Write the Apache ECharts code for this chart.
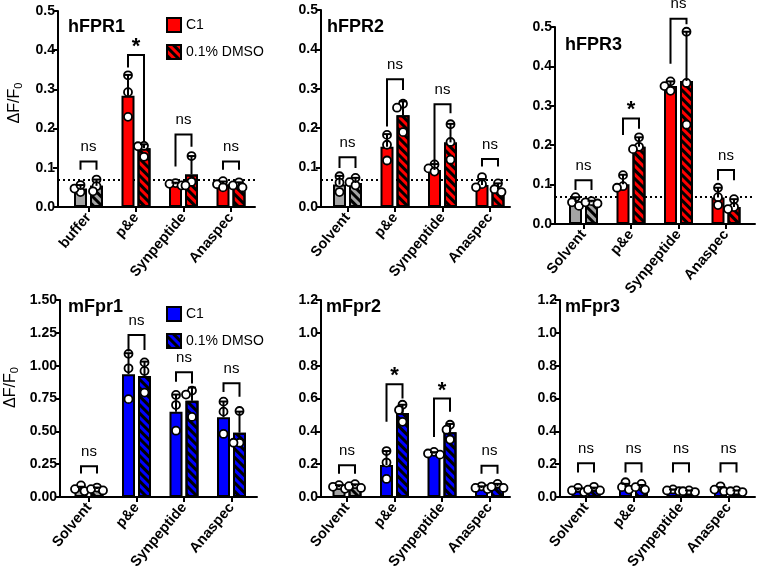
<!DOCTYPE html>
<html><head><meta charset="utf-8">
<script src="https://cdn.jsdelivr.net/npm/echarts@6/dist/echarts.min.js"></script>
<style>html,body{margin:0;padding:0;background:#fff}#c{width:757px;height:573px}</style>
</head><body><div id="c"></div><script>
const FONT = '"Liberation Sans", Arial, Helvetica, sans-serif';

// ---------------- data ----------------
const panelTitles = ['hFPR1', 'hFPR2', 'hFPR3', 'mFpr1', 'mFpr2', 'mFpr3'];
const catsHFPR1 = ['buffer', 'p&e', 'Synpeptide', 'Anaspec'];
const catsOther = ['Solvent', 'p&e', 'Synpeptide', 'Anaspec'];
const seriesNames = ['C1', '0.1% DMSO'];
const yMax = [0.5, 0.5, 0.5, 1.5, 1.2, 1.2];
const yStep = [0.1, 0.1, 0.1, 0.25, 0.2, 0.2];
const yDecimals = [1, 1, 1, 2, 1, 1];
const baselineLevel = 0.072;   // dotted reference line (hFPR panels)

const c1Mean = [
  [0.047, 0.284, 0.058, 0.058],
  [0.057, 0.153, 0.094, 0.056],
  [0.056, 0.101, 0.350, 0.067],
  [0.058, 0.935, 0.650, 0.607],
  [0.060, 0.195, 0.265, 0.055],
  [0.040, 0.060, 0.040, 0.045]
];
const c1Sd = [
  [0.009, 0.053, 0.004, 0.007],
  [0.022, 0.032, 0.015, 0.015],
  [0.012, 0.024, 0.012, 0.025],
  [0.020, 0.160, 0.130, 0.120],
  [0.012, 0.085, 0.008, 0.010],
  [0.012, 0.020, 0.006, 0.015]
];
const dmsoMean = [
  [0.054, 0.150, 0.083, 0.055],
  [0.061, 0.233, 0.164, 0.045],
  [0.055, 0.196, 0.363, 0.043],
  [0.060, 0.921, 0.733, 0.490],
  [0.065, 0.512, 0.395, 0.065],
  [0.045, 0.055, 0.035, 0.035]
];
const dmsoSd = [
  [0.016, 0.010, 0.047, 0.008],
  [0.013, 0.035, 0.047, 0.015],
  [0.004, 0.024, 0.125, 0.020],
  [0.012, 0.110, 0.100, 0.160],
  [0.012, 0.050, 0.050, 0.015],
  [0.012, 0.018, 0.005, 0.005]
];
const c1Dots = [
  [[0.038, 0.047, 0.056], [0.336, 0.293, 0.230], [0.061, 0.059, 0.055], [0.066, 0.058, 0.050]],
  [[0.078, 0.062, 0.038], [0.183, 0.158, 0.118], [0.108, 0.098, 0.090], [0.076, 0.058, 0.050]],
  [[0.068, 0.055, 0.046], [0.124, 0.096, 0.092], [0.362, 0.350, 0.338], [0.092, 0.068, 0.048]],
  [[0.088, 0.060, 0.045], [1.090, 0.980, 0.745], [0.777, 0.700, 0.505], [0.726, 0.650, 0.480]],
  [[0.072, 0.062, 0.050], [0.280, 0.210, 0.110], [0.275, 0.265, 0.258], [0.065, 0.055, 0.048]],
  [[0.055, 0.040, 0.030], [0.090, 0.060, 0.045], [0.046, 0.040, 0.035], [0.065, 0.045, 0.035]]
];
const dmsoDots = [
  [[0.070, 0.053, 0.040], [0.156, 0.155, 0.128], [0.130, 0.064, 0.055], [0.063, 0.055, 0.050]],
  [[0.074, 0.063, 0.055], [0.262, 0.252, 0.190], [0.210, 0.165, 0.120], [0.060, 0.045, 0.038]],
  [[0.058, 0.055, 0.052], [0.220, 0.196, 0.190], [0.488, 0.358, 0.252], [0.063, 0.043, 0.038]],
  [[0.072, 0.060, 0.050], [1.025, 0.960, 0.795], [0.810, 0.780, 0.610], [0.655, 0.413, 0.413]],
  [[0.078, 0.066, 0.055], [0.562, 0.530, 0.458], [0.440, 0.410, 0.350], [0.080, 0.062, 0.055]],
  [[0.062, 0.045, 0.040], [0.080, 0.060, 0.045], [0.040, 0.035, 0.030], [0.040, 0.035, 0.030]]
];
// significance brackets: top level, left-leg bottom, right-leg bottom
const bracketTop = [
  [0.116, 0.388, 0.185, 0.116],
  [0.126, 0.324, 0.261, 0.122],
  [0.111, 0.268, 0.521, 0.137],
  [0.234, 1.234, 0.949, 0.866],
  [0.193, 0.687, 0.600, 0.191],
  [0.205, 0.205, 0.205, 0.205]
];
const bracketLeft = [
  [0.095, 0.356, 0.103, 0.095],
  [0.099, 0.204, 0.111, 0.103],
  [0.086, 0.226, 0.407, 0.111],
  [0.178, 1.107, 0.878, 0.800],
  [0.142, 0.458, 0.366, 0.142],
  [0.150, 0.150, 0.150, 0.150]
];
const bracketRight = [
  [0.095, 0.166, 0.154, 0.095],
  [0.099, 0.297, 0.238, 0.103],
  [0.086, 0.242, 0.507, 0.111],
  [0.178, 1.120, 0.865, 0.764],
  [0.142, 0.600, 0.519, 0.142],
  [0.150, 0.150, 0.150, 0.150]
];
const sigLabels = [
  ['ns', '*', 'ns', 'ns'],
  ['ns', 'ns', 'ns', 'ns'],
  ['ns', '*', 'ns', 'ns'],
  ['ns', 'ns', 'ns', 'ns'],
  ['ns', '*', '*', 'ns'],
  ['ns', 'ns', 'ns', 'ns']
];

// ---------------- layout / style ----------------
const layout = [
  {left: 58,  x0: 88.5,  end: 255, top: 11,  bottom: 207},
  {left: 321, x0: 347.5, end: 510, top: 10,  bottom: 207},
  {left: 555, x0: 583.5, end: 755, top: 27,  bottom: 224},
  {left: 60,  x0: 89,    end: 257, top: 300, bottom: 497},
  {left: 321, x0: 347,   end: 510, top: 300, bottom: 497},
  {left: 560, x0: 586,   end: 755, top: 300, bottom: 497}
];
const titlePos = [[68, 18], [327, 18], [565, 36], [68, 298], [326, 298], [565, 298]];
const SPACING = 47.5;
const BAR_OFF = 8 / SPACING;
const RED = '#ff0000', BLUE = '#0000ff', GREY = '#a3a3a3';
const DECAL = {symbol: 'rect', symbolSize: 1, color: '#000', dashArrayX: [1, 0], dashArrayY: [3, 3], rotation: Math.PI / 4};

function jitter(vals, p) {
  const L = layout[p];
  const ppu = (L.bottom - L.top) / yMax[p];
  const placed = [];
  const cand = [0, -3.5, 3.5, -6, 6];
  return vals.map(v => {
    const y = v * ppu;
    for (const c of cand) {
      if (placed.every(q => Math.hypot(q.x - c, q.y - y) >= 6)) { placed.push({x: c, y}); return c; }
    }
    placed.push({x: 0, y}); return 0;
  });
}

const grids = [], xAxes = [], yAxes = [], series = [];
for (let p = 0; p < 6; p++) {
  const L = layout[p];
  const xMin = -(L.x0 - L.left) / SPACING;
  const xMax = xMin + (L.end - L.left) / SPACING;
  const cats = p === 0 ? catsHFPR1 : catsOther;
  const col = p < 3 ? RED : BLUE;
  grids.push({left: L.left, top: L.top, width: L.end - L.left, height: L.bottom - L.top, containLabel: false});
  xAxes.push({
    type: 'value', gridIndex: p, min: xMin, max: xMax,
    axisLine: {show: true, onZero: false, lineStyle: {color: '#000', width: 2}},
    axisTick: {show: true, customValues: [0, 1, 2, 3], length: 5, lineStyle: {color: '#000', width: 2}},
    axisLabel: {customValues: [0, 1, 2, 3], formatter: v => cats[Math.round(v)], rotate: 50,
      fontWeight: 'bold', fontSize: 14.5, fontFamily: FONT, color: '#000', margin: 8},
    splitLine: {show: false}
  });
  const yA = {
    type: 'value', gridIndex: p, min: 0, max: yMax[p], interval: yStep[p],
    axisLine: {show: true, onZero: false, lineStyle: {color: '#000', width: 2}},
    axisTick: {show: true, length: 5, lineStyle: {color: '#000', width: 2}},
    axisLabel: {formatter: v => v.toFixed(yDecimals[p]), fontWeight: 'bold', fontSize: 14, fontFamily: FONT, color: '#000', margin: 3},
    splitLine: {show: false}
  };
  if (p === 0 || p === 3) {
    yA.name = '{a|ΔF/F}{b|0}';
    yA.nameLocation = 'middle';
    yA.nameGap = p === 0 ? 34 : 40;
    yA.nameRotate = 90;
    yA.nameTextStyle = {color: '#000', fontFamily: FONT, fontSize: 16, padding: [0, 0, 0, p === 0 ? 12 : 22],
      rich: {a: {fontSize: 16, fontFamily: FONT, color: '#000'},
             b: {fontSize: 11, fontFamily: FONT, color: '#000', padding: [8, 0, 0, 0]}}};
  }
  yAxes.push(yA);

  const mkBars = (means, d) => means.map((m, i) => {
    const item = {value: [i + (d ? BAR_OFF : -BAR_OFF), m]};
    if (i === 0 && p < 5) item.itemStyle = {color: GREY};
    return item;
  });
  series.push({
    type: 'bar', name: seriesNames[0], xAxisIndex: p, yAxisIndex: p, barWidth: 13, barGap: '-100%', z: 3,
    itemStyle: {color: col, borderColor: '#000', borderWidth: 2},
    data: mkBars(c1Mean[p], false),
    markLine: p < 3 ? {silent: true, symbol: 'none', z: 1, label: {show: false},
      lineStyle: {type: [2, 3], width: 2, color: '#000'}, data: [{yAxis: baselineLevel}]} : undefined
  });
  series.push({
    type: 'bar', name: seriesNames[1], xAxisIndex: p, yAxisIndex: p, barWidth: 13, barGap: '-100%', z: 3,
    itemStyle: {color: col, borderColor: '#000', borderWidth: 2, decal: DECAL},
    data: mkBars(dmsoMean[p], true)
  });

  // replicate dots
  const dots = [];
  for (let i = 0; i < 4; i++) {
    [[c1Dots[p][i], -BAR_OFF], [dmsoDots[p][i], BAR_OFF]].forEach(([vals, off]) => {
      const j = jitter(vals, p);
      vals.forEach((v, k) => dots.push([i + off, v, j[k]]));
    });
  }
  series.push({
    type: 'custom', name: 'replicates', xAxisIndex: p, yAxisIndex: p, z: 4, clip: false, silent: true,
    encode: {x: 0, y: 1}, data: dots,
    renderItem: (params, api) => {
      const pt = api.coord([api.value(0), api.value(1)]);
      return {type: 'circle', shape: {cx: pt[0] + api.value(2), cy: pt[1], r: 4},
        style: {fill: '#fff', stroke: '#000', lineWidth: 1.8}};
    }
  });

  // error bars (mean + SD)
  const errs = [];
  for (let i = 0; i < 4; i++) {
    errs.push([i - BAR_OFF, c1Mean[p][i], c1Mean[p][i] + c1Sd[p][i]]);
    errs.push([i + BAR_OFF, dmsoMean[p][i], dmsoMean[p][i] + dmsoSd[p][i]]);
  }
  series.push({
    type: 'custom', name: 'SD', xAxisIndex: p, yAxisIndex: p, z: 5, clip: false, silent: true,
    encode: {x: 0, y: [1, 2]}, data: errs,
    renderItem: (params, api) => {
      const a = api.coord([api.value(0), api.value(1)]);
      const b = api.coord([api.value(0), api.value(2)]);
      return {type: 'group', children: [
        {type: 'line', shape: {x1: a[0], y1: a[1], x2: b[0], y2: b[1]}, style: {stroke: '#000', lineWidth: 2}},
        {type: 'line', shape: {x1: b[0] - 4, y1: b[1], x2: b[0] + 4, y2: b[1]}, style: {stroke: '#000', lineWidth: 2}}
      ]};
    }
  });

  // significance brackets
  const br = [];
  for (let i = 0; i < 4; i++) br.push([i - BAR_OFF, i + BAR_OFF, bracketTop[p][i], bracketLeft[p][i], bracketRight[p][i]]);
  const labs = sigLabels[p];
  series.push({
    type: 'custom', name: 'significance', xAxisIndex: p, yAxisIndex: p, z: 6, clip: false, silent: true,
    encode: {x: [0, 1], y: [2, 3, 4]}, data: br,
    renderItem: (params, api) => {
      const tl = api.coord([api.value(0), api.value(2)]);
      const tr = api.coord([api.value(1), api.value(2)]);
      const bl = api.coord([api.value(0), api.value(3)]);
      const brr = api.coord([api.value(1), api.value(4)]);
      const lab = labs[params.dataIndex];
      const star = lab === '*';
      return {type: 'group', children: [
        {type: 'polyline', shape: {points: [bl, tl, tr, brr]}, style: {stroke: '#000', lineWidth: 2, fill: null}},
        {type: 'text', x: (tl[0] + tr[0]) / 2, y: star ? tl[1] + 3 : tl[1] - 7,
          style: {text: lab, fill: '#000', align: 'center', verticalAlign: 'bottom',
            font: star ? 'bold 22px ' + FONT : '15px ' + FONT}}
      ]};
    }
  });
}

const legendCommon = {orient: 'vertical', icon: 'rect', itemWidth: 14, itemHeight: 14, itemGap: 11, selectedMode: false,
  padding: 0, textStyle: {fontSize: 14, fontFamily: FONT, color: '#000'}};
const option = {
  animation: false,
  backgroundColor: '#fff',
  title: panelTitles.map((t, p) => ({text: t, left: titlePos[p][0], top: titlePos[p][1], padding: 0,
    textStyle: {fontSize: 18, fontWeight: 'bold', fontFamily: FONT, color: '#000'}})),
  legend: [
    Object.assign({left: 166, top: 17, data: seriesNames}, legendCommon),
    Object.assign({left: 166, top: 306, data: [
      {name: seriesNames[0], itemStyle: {color: BLUE}},
      {name: seriesNames[1], itemStyle: {color: BLUE, decal: DECAL}}]}, legendCommon)
  ],
  grid: grids, xAxis: xAxes, yAxis: yAxes, series: series
};
const chart = echarts.init(document.getElementById('c'), null, {renderer: 'canvas'});
chart.setOption(option);
</script></body></html>
